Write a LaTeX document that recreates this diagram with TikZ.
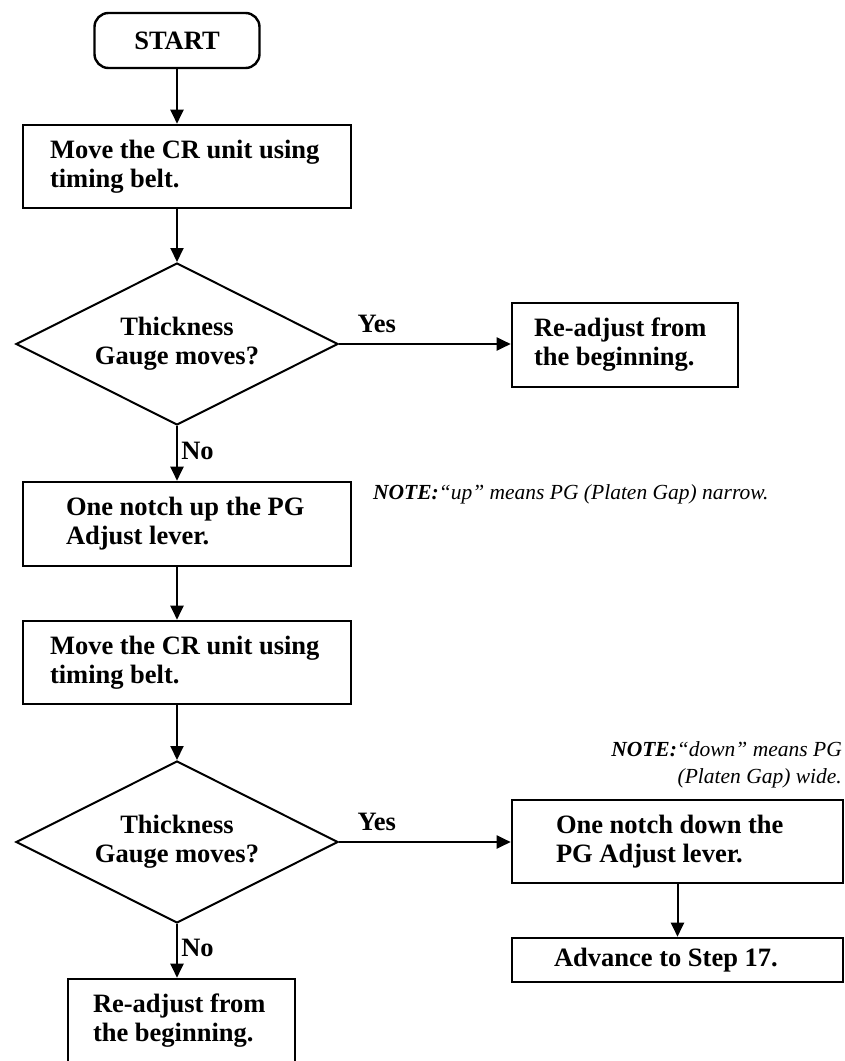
\documentclass[tikz,border=0pt]{standalone}
\usepackage{fontspec}
\setmainfont{Liberation Serif}
\usetikzlibrary{shapes.geometric, arrows.meta}

\begin{document}
\begin{tikzpicture}[x=1pt, y=-1pt,
    flow/.style={-{Triangle[length=14pt, width=13pt]}, line width=2pt},
    stepbox/.style={draw, line width=2.6pt, align=flush left, inner xsep=0pt,
        inner ysep=0pt, minimum height=84pt,
        font=\bfseries\fontsize{26.5}{29}\selectfont},
    startbox/.style={draw, line width=2.4pt, rounded corners=14pt,
        minimum width=165pt, minimum height=55pt,
        font=\bfseries\fontsize{26.5}{29}\selectfont},
    decision/.style={diamond, draw, line width=2pt, aspect=2, inner sep=0pt,
        align=center, minimum width=322pt, minimum height=162pt,
        font=\bfseries\fontsize{26.5}{29}\selectfont},
    lbl/.style={font=\bfseries\fontsize{26.5}{29}\selectfont},
    note/.style={inner sep=0pt, font=\itshape\fontsize{21.5}{27}\selectfont},
]

\useasboundingbox (0,0) rectangle (844,1061);

%% --- main column ---
\coordinate (col) at (177,0);

%% --- start and first move ---
\node[startbox] (start) at (177,40.5) {START};
\node[stepbox, minimum width=328pt, text width=274pt, minimum height=83pt]
    (move1) at (187,166.5) {Move the CR unit using\\timing belt.};

%% --- first check ---
\node[decision] (gauge1) at (177,344) {Thickness\\Gauge moves?};
\node[stepbox, minimum width=226pt, text width=182pt]
    (readj1) at (625,345) {Re-adjust from\\the beginning.};

%% --- lever up, move again ---
\node[stepbox, minimum width=328pt, text width=242pt]
    (notchup) at (187,524) {One notch up the PG\\Adjust lever.};
\node[stepbox, minimum width=328pt, text width=274pt, minimum height=83pt]
    (move2) at (187,662.5) {Move the CR unit using\\timing belt.};

%% --- second check ---
\node[decision] (gauge2) at (177,842) {Thickness\\Gauge moves?};
\node[stepbox, minimum width=331pt, text width=243pt, minimum height=83pt]
    (notchdown) at (677.5,841.5) {One notch down the\\PG Adjust lever.};
\node[stepbox, minimum width=331pt, text width=247pt, minimum height=44pt]
    (advance) at (677.5,960) {Advance to Step 17.};
\node[stepbox, minimum width=227pt, text width=177pt]
    (readj2) at (181.5,1021) {Re-adjust from\\the beginning.};

%% --- notes ---
\node[note, anchor=base west] (note1) at (373,499)
    {\textbf{NOTE:}“up” means PG (Platen Gap) narrow.};
\node[note, anchor=north east, align=right] (note2) at (842,741)
    {\textbf{NOTE:}“down” means PG\\(Platen Gap) wide.};

%% --- connectors ---
\draw[flow] (start.south) -- (start.south |- move1.north);
\draw[flow] (col |- move1.south) -- (gauge1.north);
\draw[flow] (gauge1.east) -- node[lbl, above=7pt, pos=0.22] (yes1) {Yes}
    (gauge1.east -| readj1.west);
\draw[flow] (gauge1.south) -- node[lbl, right, pos=0.45] (no1) {No}
    (gauge1.south |- notchup.north);
\draw[flow] (col |- notchup.south) -- (col |- move2.north);
\draw[flow] (col |- move2.south) -- (gauge2.north);
\draw[flow] (gauge2.east) -- node[lbl, above=7pt, pos=0.22] (yes2) {Yes}
    (gauge2.east -| notchdown.west);
\draw[flow] (notchdown.south) -- (advance.north);
\draw[flow] (gauge2.south) -- node[lbl, right, pos=0.45] (no2) {No}
    (gauge2.south |- readj2.north);

\end{tikzpicture}
\end{document}
